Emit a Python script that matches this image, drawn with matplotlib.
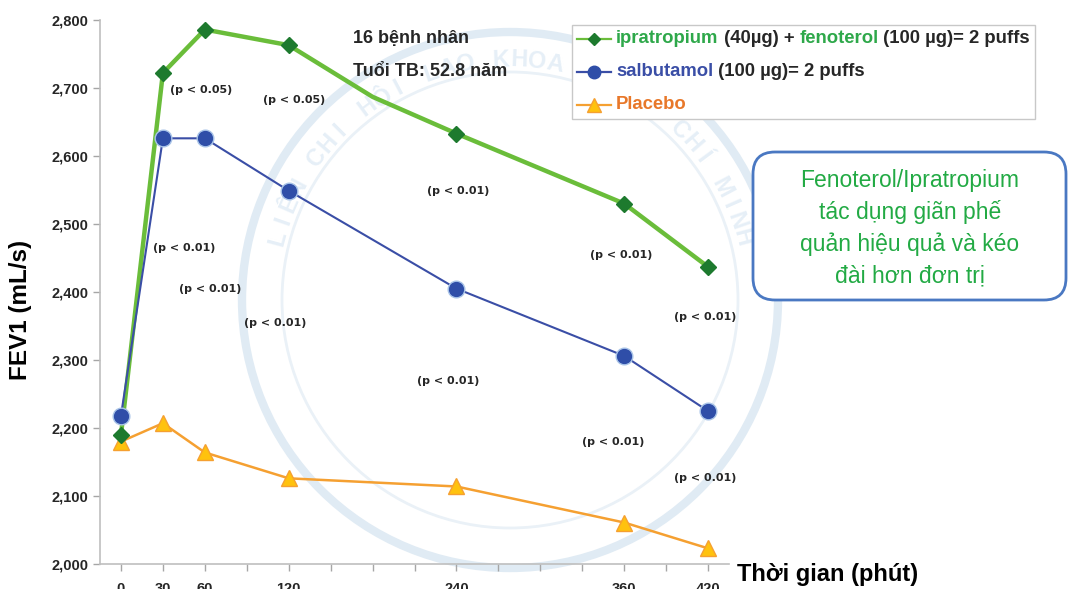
import numpy as np
import matplotlib
matplotlib.use("Agg")
import matplotlib.pyplot as plt
from matplotlib.lines import Line2D
from matplotlib.patches import FancyBboxPatch, Circle
from matplotlib.offsetbox import (AnchoredOffsetbox, DrawingArea, HPacker,
                                  TextArea, VPacker)

plt.rcParams['font.family'] = ['Liberation Sans', 'DejaVu Sans']

# thời gian (phút)
t_combo = [0, 30, 60, 120, 180, 240, 360, 420]
fev_combo = [2190, 2722, 2786, 2763, 2687, 2633, 2530, 2437]
combo_marked = [0, 1, 2, 3, 5, 6, 7]   # 180 phút không có marker

t_main = [0, 30, 60, 120, 240, 360, 420]
fev_salbu = [2218, 2626, 2626, 2549, 2405, 2306, 2225]
fev_placebo = [2180, 2207, 2164, 2126, 2114, 2061, 2023]

tick_major = [0, 30, 60, 120, 240, 360, 420]
tick_all = list(range(0, 421, 30))

# chú thích p (x, y, nhãn)
p_notes = [
    (57, 2697, "(p < 0.05)"), (124, 2683, "(p < 0.05)"),
    (45, 2464, "(p < 0.01)"), (64, 2404, "(p < 0.01)"),
    (110, 2354, "(p < 0.01)"), (241, 2549, "(p < 0.01)"),
    (358, 2455, "(p < 0.01)"), (418, 2363, "(p < 0.01)"),
    (234, 2269, "(p < 0.01)"), (352, 2179, "(p < 0.01)"),
    (418, 2126, "(p < 0.01)"),
]

GREEN_LINE = '#6abd3a'
GREEN_MK = '#1d7a2e'
GREEN_TXT = '#2ea84a'
BLUE = '#3a4ea6'
BLUE_MK = '#2f4ea8'
ORANGE = '#f5a031'
YELLOW = '#ffc20e'
ORANGE_TXT = '#e8782a'
DARK = '#262626'

W, H = 1072, 589
fig = plt.figure(figsize=(W / 100, H / 100), dpi=100)

# logo mờ phía sau
ax_bg = fig.add_axes([0, 0, 1, 1], zorder=-5)
ax_bg.set_xlim(0, W)
ax_bg.set_ylim(H, 0)
ax_bg.axis('off')
ax_bg.add_patch(Circle((510, 300), 268, fill=False, ec='#e0ebf4', lw=6))
ax_bg.add_patch(Circle((510, 300), 228, fill=False, ec='#eaf1f7', lw=2))
wm = "LIÊN CHI HỘI LAO KHOA TP HỒ CHÍ MINH"
angs = np.linspace(165, 15, len(wm))
for ch, a in zip(wm, angs):
    r = 240
    xx = 510 + r * np.cos(np.radians(a))
    yy = 300 - r * np.sin(np.radians(a))
    ax_bg.text(xx, yy, ch, rotation=a - 90, ha='center', va='center',
               fontsize=17, fontweight='bold', color='#e6eff7')

ax = fig.add_axes([100 / W, 1 - 564 / H, 629 / W, 544 / H])
ax.patch.set_alpha(0)

ax.plot(t_combo, fev_combo, color=GREEN_LINE, lw=3.2, marker='D', ms=8,
        mfc=GREEN_MK, mec=GREEN_MK, markevery=combo_marked, zorder=4)
ax.plot(t_main, fev_salbu, color=BLUE, lw=1.5, marker='o', ms=12,
        mfc=BLUE_MK, mec='#a9c4e8', mew=1, zorder=5)
ax.plot(t_main, fev_placebo, color=ORANGE, lw=1.8, marker='^', ms=12,
        mfc=YELLOW, mec=ORANGE, mew=1, zorder=3)

ax.set_xlim(-15, 435)
ax.set_ylim(2000, 2800)
ax.set_yticks(range(2000, 2801, 100))
ax.set_yticklabels([f"{v:,}" for v in range(2000, 2801, 100)],
                   fontsize=10.5, fontweight='bold', color=DARK)
ax.set_xticks(tick_all)
ax.set_xticklabels([str(t) if t in tick_major else "" for t in tick_all],
                   fontsize=10.5, fontweight='bold', color=DARK)
ax.tick_params(axis='both', color='#a6a6a6', length=5, width=1)
ax.tick_params(axis='x', pad=8)
for s in ['top', 'right']:
    ax.spines[s].set_visible(False)
for s in ['left', 'bottom']:
    ax.spines[s].set_color('#bfbfbf')
    ax.spines[s].set_linewidth(1.2)

fig.text(21 / W, 1 - 310 / H, "FEV1 (mL/s)", fontsize=17.5,
         fontweight='bold', rotation=90, ha='center', va='center')

for x, y, s in p_notes:
    ax.text(x, y, s, ha='center', va='center', fontsize=8,
            fontweight='bold', color=DARK, family='DejaVu Sans', zorder=6)

fig.text(737 / W, 1 - 574 / H, "Thời gian (phút)", fontsize=17,
         fontweight='bold', ha='left', va='center')
fig.text(353 / W, 1 - 38 / H, "16 bệnh nhân", fontsize=13,
         fontweight='bold', color=DARK, ha='left', va='center')
fig.text(353 / W, 1 - 71 / H, "Tuổi TB: 52.8 năm", fontsize=13,
         fontweight='bold', color=DARK, ha='left', va='center')


# chú giải với chữ nhiều màu
def handle(color, mk, mfc, mec, ms):
    da = DrawingArea(24, 12, 0, 0)
    da.add_artist(Line2D([0, 24], [6, 6], color=color, lw=1.6))
    da.add_artist(Line2D([12], [6], marker=mk, ms=ms, mfc=mfc, mec=mec,
                         lw=0))
    return da


def piece(s, c):
    return TextArea(s, textprops=dict(color=c, fontsize=13.3,
                                      fontweight='bold'))


def row(h, parts):
    txt = HPacker(children=[piece(s, c) for s, c in parts], sep=0,
                  align='baseline', pad=0)
    return HPacker(children=[h, txt], sep=4, align='center', pad=0)


rows = [
    row(handle(GREEN_LINE, 'D', GREEN_MK, GREEN_MK, 6),
        [("ipratropium", GREEN_TXT), (" (40µg) + ", DARK),
         ("fenoterol", GREEN_TXT), (" (100 µg)= 2 puffs", DARK)]),
    row(handle(BLUE, 'o', BLUE_MK, BLUE_MK, 9),
        [("salbutamol", BLUE), (" (100 µg)= 2 puffs", DARK)]),
    row(handle(ORANGE, '^', YELLOW, ORANGE, 10),
        [("Placebo", ORANGE_TXT)]),
]
box = VPacker(children=rows, sep=11.5, align='left', pad=0)
leg = AnchoredOffsetbox(loc='upper left', child=box, pad=0.38,
                        borderpad=0, frameon=True,
                        bbox_to_anchor=(572 / W, 1 - 25 / H),
                        bbox_transform=fig.transFigure)
leg.patch.set_edgecolor('#c8c8c8')
leg.patch.set_linewidth(1)
leg.patch.set_boxstyle('square', pad=0)
fig.add_artist(leg)

# hộp kết luận
ax_fg = fig.add_axes([0, 0, 1, 1], zorder=10)
ax_fg.set_xlim(0, W)
ax_fg.set_ylim(H, 0)
ax_fg.axis('off')
ax_fg.add_patch(FancyBboxPatch((753, 152), 313, 148,
                               boxstyle='round,pad=0,rounding_size=22',
                               fc='white', ec='#4a78c2', lw=2))
ax_fg.text(910, 228, "Fenoterol/Ipratropium\ntác dụng giãn phế\n"
           "quản hiệu quả và kéo\nđài hơn đơn trị",
           ha='center', va='center', fontsize=16.5, color='#22aa44',
           linespacing=1.45)

fig.savefig("out.png", dpi=100)
